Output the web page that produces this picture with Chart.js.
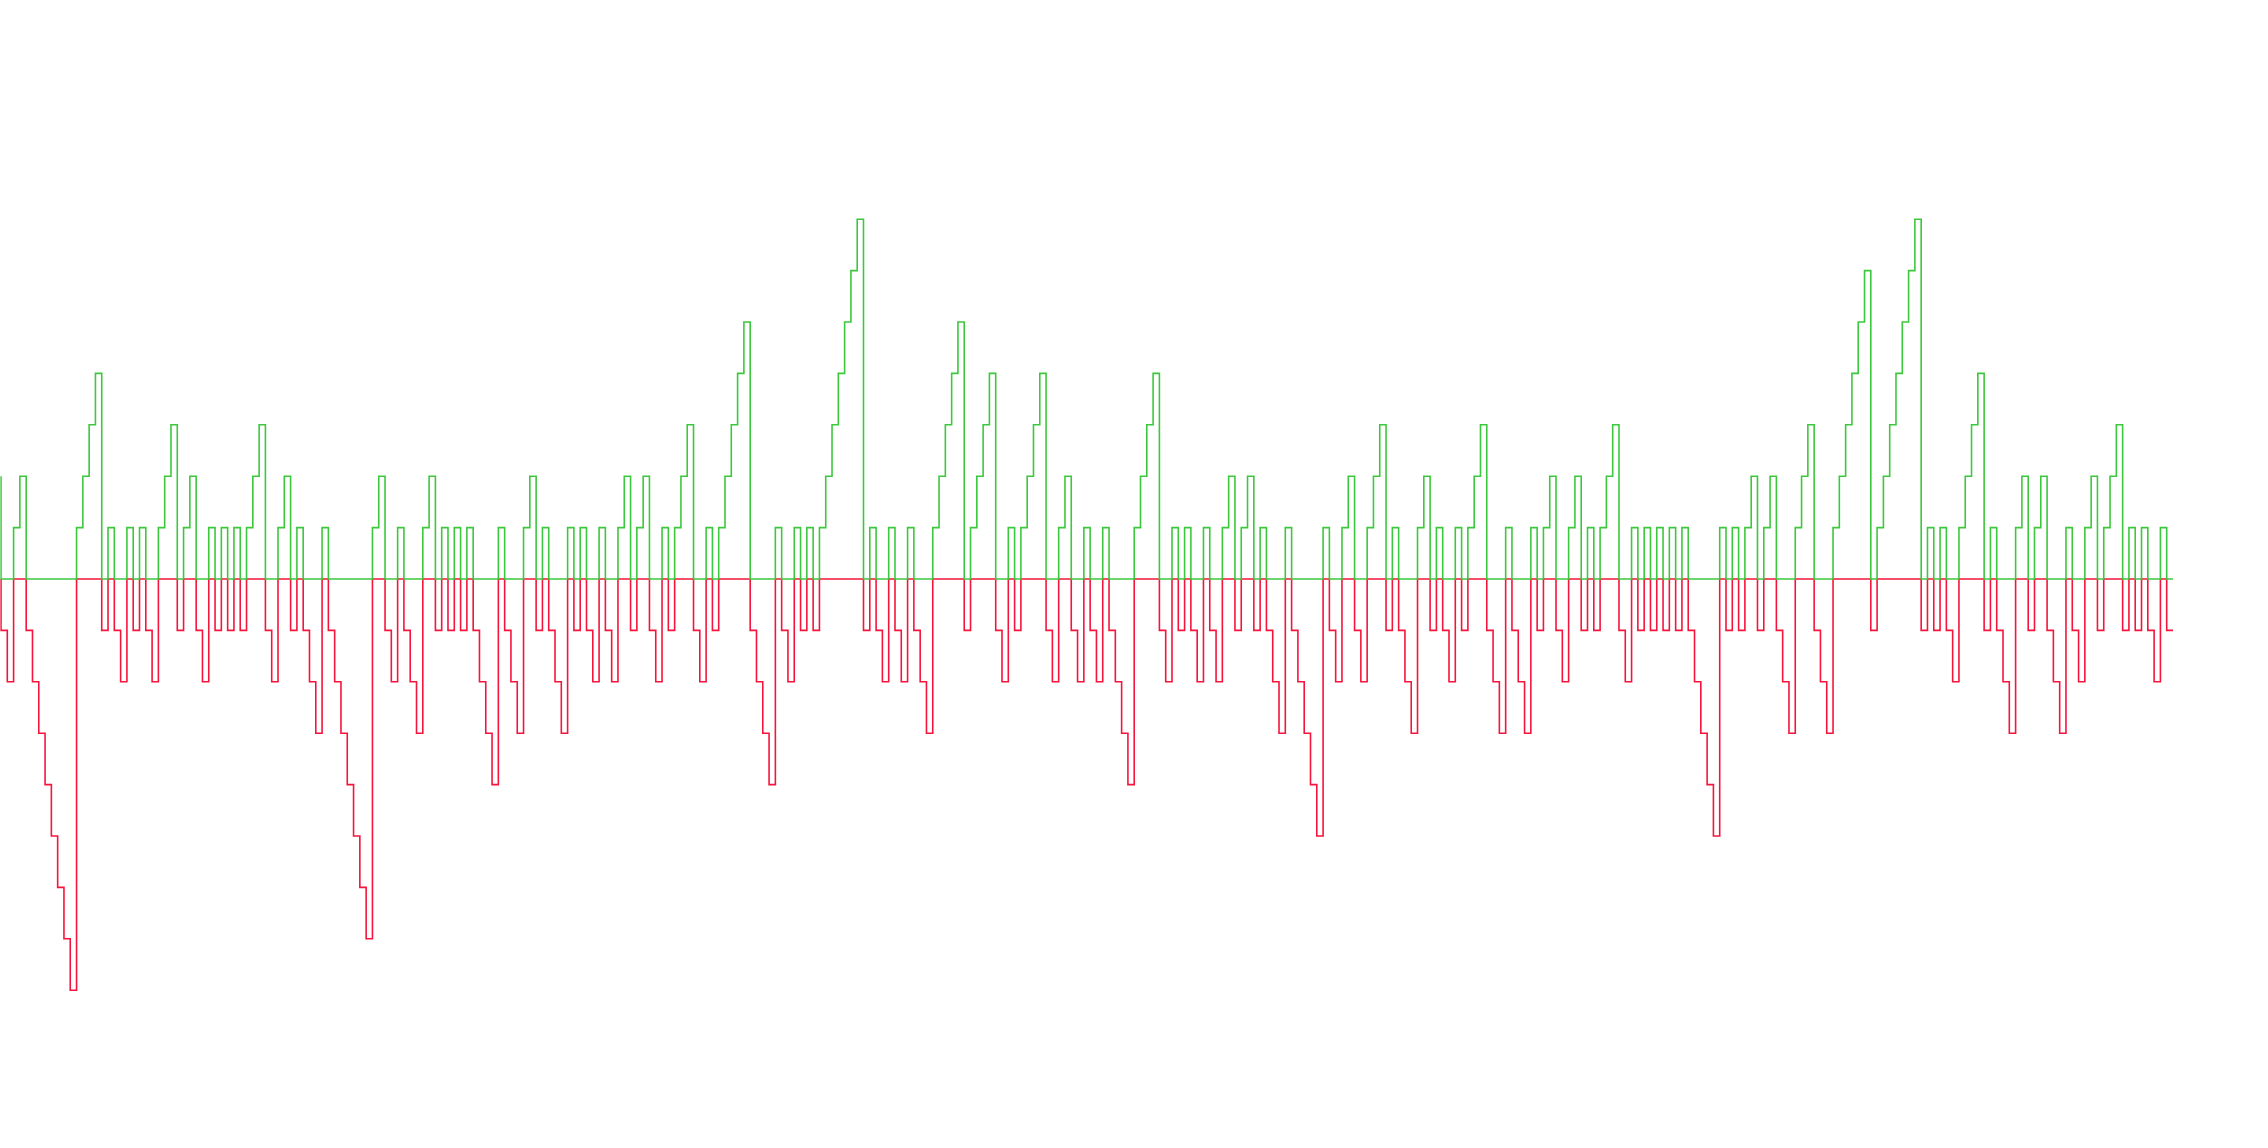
<!DOCTYPE html>
<html>
<head>
<meta charset="utf-8">
<script src="https://cdn.jsdelivr.net/npm/chart.js@4.4.1/dist/chart.umd.min.js"></script>
<style>
  html, body { margin: 0; padding: 0; background: #fff; }
  #wrap { width: 100vw; height: 100vh; }
</style>
</head>
<body>
<div id="wrap"><canvas id="streakChart"></canvas></div>
<script>
// streak counter: +n = n-th rise in a row, -n = n-th fall in a row
const streak = [
	2, -1,-2, 1,2, -1,-2,-3,-4,-5,-6,-7,-8, 1,2,3,4, -1, 1, -1,-2, 1, -1, 1, -1,-2, 1,2,3, -1, 1,2, -1,-2,
	1, -1, 1, -1, 1, -1, 1,2,3, -1,-2, 1,2, -1, 1, -1,-2,-3, 1, -1,-2,-3,-4,-5,-6,-7, 1,2, -1,-2,

	1, -1,-2,-3, 1,2, -1, 1, -1, 1, -1, 1, -1,-2,-3,-4, 1, -1,-2,-3, 1,2, -1, 1, -1,-2,-3, 1, -1, 1,
	-1,-2, 1, -1,-2, 1,2, -1, 1,2, -1,-2, 1, -1, 1,2,3, -1,-2, 1, -1, 1,2,3,4,5,

	-1,-2,-3,-4, 1, -1,-2, 1, -1, 1, -1, 1,2,3,4,5,6,7, -1, 1, -1,-2, 1, -1,-2, 1, -1,-2,-3,
	1,2,3,4,5, -1, 1,2,3,4, -1,-2, 1, -1, 1,2,3,4, -1,-2, 1,2, -1,-2, 1, -1,-2, 1,

	-1,-2,-3,-4, 1,2,3,4, -1,-2, 1, -1, 1, -1,-2, 1, -1,-2, 1,2, -1, 1,2, -1, 1, -1,-2,-3, 1,
	-1,-2,-3,-4,-5, 1, -1,-2, 1,2, -1,-2, 1,2,3, -1, 1, -1,-2,-3, 1,2, -1, 1, -1,-2, 1,

	-1, 1,2,3, -1,-2,-3, 1, -1,-2,-3, 1, -1, 1,2, -1,-2, 1,2, -1, 1, -1, 1,2,3, -1,-2, 1, -1, 1,
	-1, 1, -1, 1, -1, 1, -1,-2,-3,-4,-5, 1, -1, 1, -1, 1,2, -1, 1,2, -1,-2,-3, 1,2,3,

	-1,-2,-3, 1,2,3,4,5,6, -1, 1,2,3,4,5,6,7, -1, 1, -1, 1, -1,-2, 1,2,3,4, -1, 1, -1,-2,-3,
	1,2, -1, 1,2, -1,-2,-3, 1, -1,-2, 1,2, -1, 1,2,3, -1, 1, -1, 1, -1,-2, 1, -1
];

const labels = streak.map((_, i) => i);
const upSteps = streak.map(v => Math.max(v, 0));
const downSteps = streak.map(v => Math.min(v, 0));

const yMin = -10;
const yMax = 10;

const ctx = document.getElementById('streakChart').getContext('2d');
new Chart(ctx, {
	type: 'line',
	data: {
		labels: labels,
		datasets: [{
			label: 'Up',
			data: upSteps,
			borderColor: 'rgb(60, 200, 60)',
			borderWidth: 1.6,
			stepped: 'after',
			pointRadius: 0,
			fill: false
		}, {
			label: 'Down',
			data: downSteps,
			borderColor: 'rgb(245, 20, 60)',
			borderWidth: 1.6,
			stepped: 'after',
			pointRadius: 0,
			fill: false
		}]
	},
	options: {
		responsive: true,
		maintainAspectRatio: false,
		animation: false,
		layout: {
			padding: { left: 1, right: 95, top: 65, bottom: 55 }
		},
		plugins: {
			legend: { display: false },
			tooltip: { enabled: false }
		},
		scales: {
			x: { display: false, offset: false },
			y: { display: false, min: yMin, max: yMax }
		}
	}
});
</script>
</body>
</html>
